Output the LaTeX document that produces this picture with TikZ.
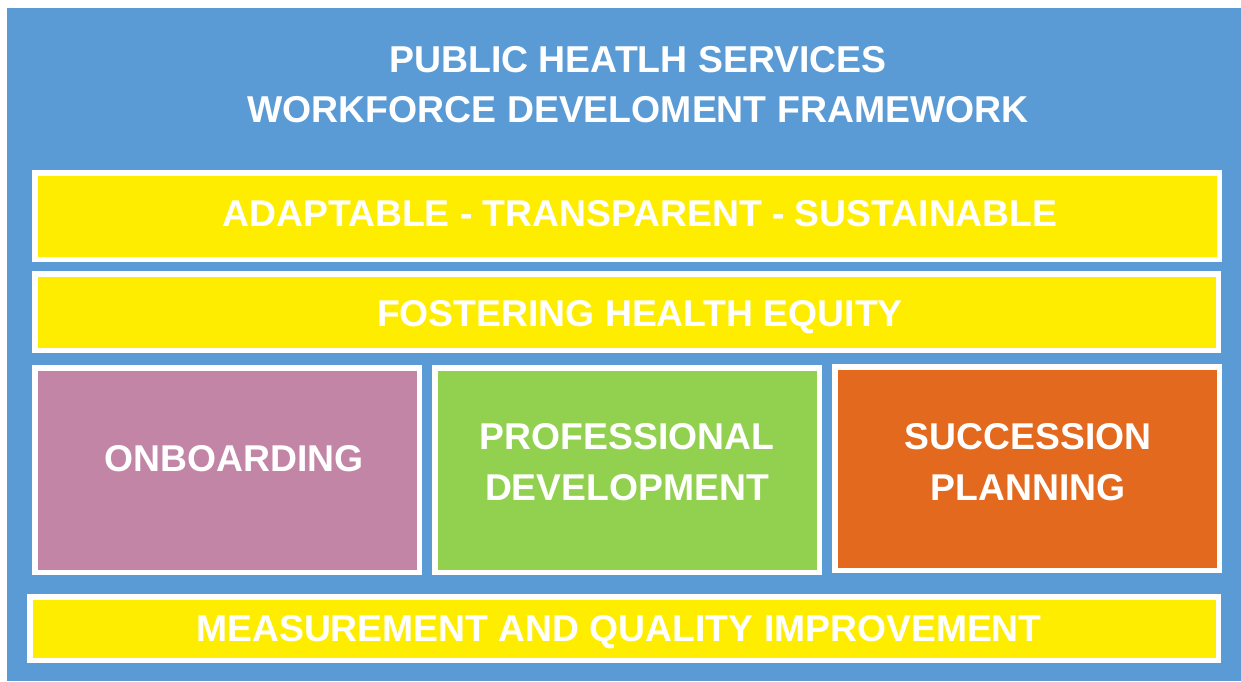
\documentclass[tikz,border=0pt]{standalone}
\usepackage{fontspec}
\setmainfont{Liberation Sans}
\definecolor{bgblue}{HTML}{5B9BD5}
\definecolor{boxyellow}{HTML}{FFED00}
\definecolor{boxpink}{HTML}{C285A5}
\definecolor{boxgreen}{HTML}{92D050}
\definecolor{boxorange}{HTML}{E3691E}
\begin{document}
\begin{tikzpicture}[x=1pt,y=-1pt,line join=miter,
	panel/.style={draw=white,line width=5.5pt},
	label/.style={text=white,font=\bfseries\fontsize{37.3}{51}\selectfont,align=center,inner sep=0pt}]
	\useasboundingbox (0,0) rectangle (1241,681);
	\fill[white] (0,0) rectangle (1241,681);
	\fill[bgblue] (7,8) rectangle (1241,681);
	% rows
	\filldraw[panel,fill=boxyellow] (34.75,172.75) rectangle (1219.25,259.25);
	\filldraw[panel,fill=boxyellow] (34.75,273.75) rectangle (1218.25,350.25);
	\filldraw[panel,fill=boxpink] (34.75,367.75) rectangle (419.25,572.25);
	\filldraw[panel,fill=boxgreen] (434.75,367.75) rectangle (819.25,572.25);
	\filldraw[panel,fill=boxorange] (834.75,366.75) rectangle (1219.25,570.25);
	\filldraw[panel,fill=boxyellow] (29.75,596.75) rectangle (1218.25,660.25);
	% texts
	\node[label,font=\bfseries\fontsize{37.4}{50}\selectfont] (title) at (638,85) {PUBLIC HEATLH SERVICES\\WORKFORCE DEVELOMENT FRAMEWORK};
	\node[label] (values) at (640,214) {ADAPTABLE - TRANSPARENT - SUSTAINABLE};
	\node[label] (equity) at (640,317) {FOSTERING HEALTH EQUITY};
	\node[label] (onboard) at (234,459) {ONBOARDING};
	\node[label] (profdev) at (627,462) {PROFESSIONAL\\DEVELOPMENT};
	\node[label] (succession) at (1028,462) {SUCCESSION\\PLANNING};
	\node[label] (measure) at (619,632) {MEASUREMENT AND QUALITY IMPROVEMENT};
\end{tikzpicture}
\end{document}
